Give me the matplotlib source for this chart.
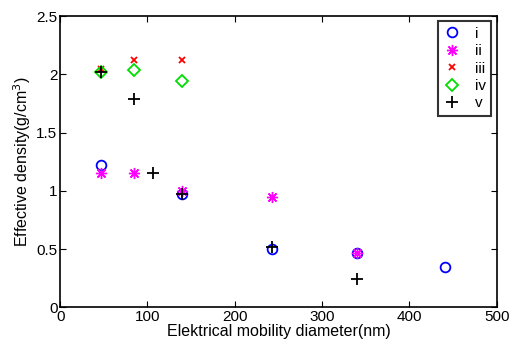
import matplotlib
matplotlib.use("Agg")
import matplotlib.pyplot as plt

plt.rcParams['font.family'] = ['Liberation Sans', 'DejaVu Sans']

x_i = [47, 140, 243, 340, 441]
y_i = [1.22, 0.97, 0.50, 0.47, 0.35]
x_ii = [47, 85, 140, 243, 340]
y_ii = [1.15, 1.15, 1.00, 0.95, 0.47]
x_iii = [47, 85, 140]
y_iii = [2.05, 2.12, 2.12]
x_iv = [47, 85, 140]
y_iv = [2.02, 2.04, 1.94]
x_v = [47, 85, 106, 140, 243, 340]
y_v = [2.02, 1.79, 1.15, 0.97, 0.52, 0.24]
labels = ['i', 'ii', 'iii', 'iv', 'v']

fig = plt.figure(figsize=(5.1, 3.43), dpi=100)
ax = fig.add_axes([0.118, 0.104, 0.856, 0.849])

ax.plot(x_i, y_i, 'o', mfc='none', mec='#0000ff', mew=1.3, ms=7, ls='none', label=labels[0])
ax.plot(x_ii, y_ii, marker=(8, 2, 0), color='#ff00ff', mec='#ff00ff', mew=1.0, ms=8, ls='none', label=labels[1])
ax.plot(x_iii, y_iii, 'x', color='#ff0000', mew=1.3, ms=5, ls='none', label=labels[2])
ax.plot(x_iv, y_iv, 'D', mfc='none', mec='#00dd00', mew=1.3, ms=6.5, ls='none', label=labels[3])
ax.plot(x_v, y_v, '+', color='black', mew=1.3, ms=8, ls='none', label=labels[4])

ax.set_xlim(0, 500)
ax.set_ylim(0, 2.5)
ax.set_xticks([0, 100, 200, 300, 400, 500])
ax.set_yticks([0, 0.5, 1, 1.5, 2, 2.5])
ax.set_yticklabels(['0', '0.5', '1', '1.5', '2', '2.5'])
ax.tick_params(direction='in', top=True, right=True, labelsize=11, length=4, pad=2)
for s in ax.spines.values():
    s.set_linewidth(1.2)

ax.set_xlabel('Elektrical mobility diameter(nm)', fontsize=11.5, labelpad=0)
ax.set_ylabel('Effective density(g/cm$^3$)', fontsize=11.5, labelpad=2)

leg = ax.legend(loc='upper right', fontsize=11, frameon=True, fancybox=False,
                edgecolor='black', handlelength=1.2, handletextpad=0.9,
                borderaxespad=0.35, labelspacing=0.22, borderpad=0.35)
leg.get_frame().set_linewidth(1.5)

fig.savefig('out.png', dpi=100)
